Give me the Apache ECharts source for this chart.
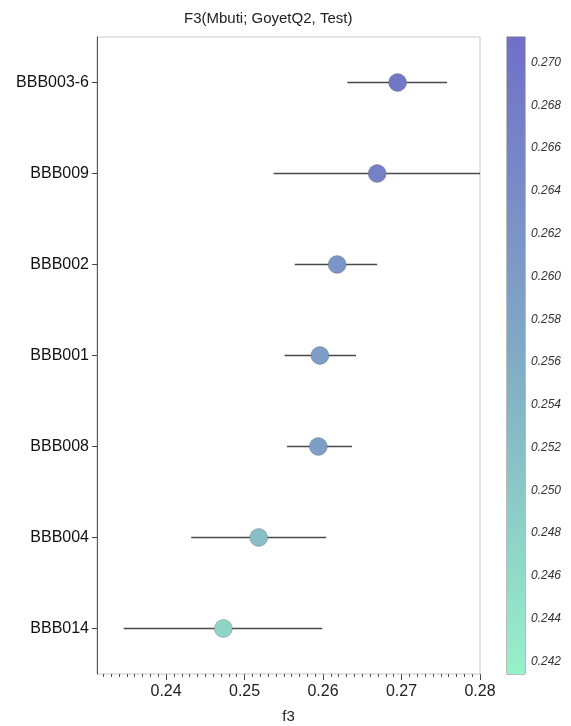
<!DOCTYPE html>
<html>
<head>
<meta charset="UTF-8">
<title>F3 forest plot</title>
<script src="https://cdn.jsdelivr.net/npm/echarts@6/dist/echarts.min.js"></script>
</head>
<body style="margin:0">
<div id="main" style="width:571px;height:726px;"></div>
<script type="text/javascript">
// data
var categories = ['BBB003-6', 'BBB009', 'BBB002', 'BBB001', 'BBB008', 'BBB004', 'BBB014'];
var f3Values  = [0.2695, 0.2669, 0.2618, 0.2596, 0.2594, 0.2518, 0.2473];
var lowerErr  = [0.2631, 0.2537, 0.2564, 0.2551, 0.2554, 0.2432, 0.2346];
var upperErr  = [0.2758, 0.2805, 0.2669, 0.2642, 0.2637, 0.2604, 0.2599];
var xTickLabels = [0.24, 0.25, 0.26, 0.27, 0.28];
var cbTickLabels = [0.242, 0.244, 0.246, 0.248, 0.250, 0.252, 0.254, 0.256, 0.258, 0.260, 0.262, 0.264, 0.266, 0.268, 0.270];
var cbRange = [0.2414, 0.2712];
var cbColors = ['#97f1c9', '#81aac6', '#7070c8'];

var xMinor = [];
for (var k = 232; k <= 280; k++) xMinor.push(k / 1000);
var cbMinor = [];
for (var m = 242; m <= 271; m++) cbMinor.push(m / 1000);

var font = '"Liberation Sans", Arial, sans-serif';
var myChart = echarts.init(document.getElementById('main'));

var option = {
    animation: false,
    textStyle: { fontFamily: font },
    title: {
        text: 'F3(Mbuti; GoyetQ2, Test)',
        left: 179, top: 6,
        textStyle: { fontSize: 15, fontWeight: 'normal', color: '#222', fontFamily: font }
    },
    visualMap: {
        type: 'continuous', show: false,
        min: cbRange[0], max: cbRange[1],
        dimension: 0, seriesIndex: 1,
        inRange: { color: cbColors }
    },
    grid: [
        { left: 97, right: 91, top: 37, bottom: 52, show: true, borderColor: '#c8c8c8', borderWidth: 1,
          containLabel: false, outerBoundsMode: 'none' },
        { left: 507, width: 18, top: 37, height: 637, show: true, borderColor: '#777', borderWidth: 1,
          containLabel: false, outerBoundsMode: 'none' }
    ],
    xAxis: [
        {
            type: 'value', gridIndex: 0, min: 0.2312, max: 0.28,
            name: 'f3', nameLocation: 'middle', nameGap: 35,
            nameTextStyle: { fontSize: 15, color: '#222' },
            axisLine: { show: false },
            axisTick: { show: true, customValues: xTickLabels, length: 6, lineStyle: { color: '#444' } },
            axisLabel: { customValues: xTickLabels, fontSize: 16, color: '#222', margin: 10,
                formatter: function (v) { return v.toFixed(2); } },
            splitLine: { show: false }
        },
        {
            type: 'value', gridIndex: 0, min: 0.2312, max: 0.28, position: 'bottom',
            axisLine: { show: false },
            axisTick: { show: true, customValues: xMinor, length: 3, lineStyle: { color: '#555' } },
            axisLabel: { show: false },
            splitLine: { show: false }
        },
        { type: 'value', gridIndex: 1, min: 0, max: 1, show: false }
    ],
    yAxis: [
        {
            type: 'category', gridIndex: 0, data: categories, inverse: true,
            axisLine: { show: true, lineStyle: { color: '#555' } },
            axisTick: { show: true, alignWithLabel: true, length: 5, lineStyle: { color: '#444' } },
            axisLabel: { fontSize: 16, color: '#111', margin: 8 },
            splitLine: { show: false }
        },
        {
            type: 'value', gridIndex: 1, min: cbRange[0], max: cbRange[1], position: 'right',
            axisLine: { show: true, lineStyle: { color: '#777' } },
            axisTick: { show: true, customValues: cbMinor, length: 4, lineStyle: { color: '#666' } },
            axisLabel: { customValues: cbTickLabels, fontSize: 12, fontStyle: 'italic', color: '#333', margin: 6,
                formatter: function (v) { return v.toFixed(3); } },
            splitLine: { show: false }
        }
    ],
    series: [
        {
            type: 'custom', xAxisIndex: 0, yAxisIndex: 0, clip: true, z: 2,
            encode: { x: [1, 2], y: 0 },
            data: categories.map(function (c, i) { return [i, lowerErr[i], upperErr[i]]; }),
            renderItem: function (params, api) {
                var y = api.value(0);
                var a = api.coord([api.value(1), y]);
                var b = api.coord([api.value(2), y]);
                return { type: 'line', shape: { x1: a[0], y1: a[1], x2: b[0], y2: b[1] },
                    style: { stroke: '#4a4a4a', lineWidth: 1.5 } };
            }
        },
        {
            type: 'scatter', xAxisIndex: 0, yAxisIndex: 0, z: 3,
            symbolSize: 18,
            itemStyle: { borderColor: 'rgba(60,60,60,0.45)', borderWidth: 0.6, opacity: 1 },
            data: categories.map(function (c, i) { return [f3Values[i], i]; })
        },
        {
            type: 'custom', xAxisIndex: 2, yAxisIndex: 1, silent: true,
            data: [[0, cbRange[0], 1, cbRange[1]]],
            renderItem: function (params, api) {
                var p0 = api.coord([api.value(0), api.value(1)]);
                var p1 = api.coord([api.value(2), api.value(3)]);
                return {
                    type: 'rect',
                    shape: { x: p0[0], y: p1[1], width: p1[0] - p0[0], height: p0[1] - p1[1] },
                    style: { fill: new echarts.graphic.LinearGradient(0, 1, 0, 0, [
                        { offset: 0, color: cbColors[0] },
                        { offset: 0.5, color: cbColors[1] },
                        { offset: 1, color: cbColors[2] }
                    ]) }
                };
            }
        }
    ]
};
myChart.setOption(option);
</script>
</body>
</html>
